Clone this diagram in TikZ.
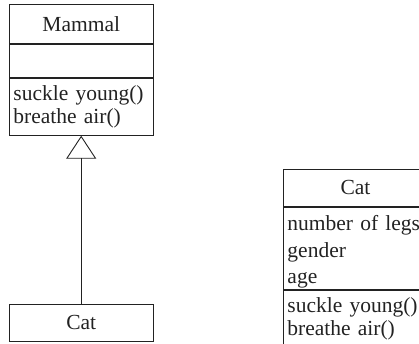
\documentclass[tikz,border=0pt]{standalone}
\usepackage{fontspec}
\setmainfont{Liberation Serif}
\usetikzlibrary{arrows.meta}
\definecolor{ink}{HTML}{222222}
\begin{document}
\begin{tikzpicture}[x=1pt,y=-1pt,
  every node/.style={text=ink, font=\fontsize{21.5}{23.5}\selectfont},
  part/.style={draw=ink, line width=0.9pt, inner sep=0pt, anchor=north west},
  leftpart/.style={part, minimum width=144.5pt},
  rightpart/.style={part, minimum width=145pt},
  lines/.style={align=left, text width=#1, inner xsep=4.5pt},
  inherits/.style={draw=ink, line width=0.9pt,
    -{Triangle[open, width=30pt, length=23pt]}}]
  \clip (0,0) rectangle (419,344);
  \useasboundingbox (0,0) rectangle (419,344);

  % superclass Mammal: name, (empty) attributes, operations
  \node[leftpart, minimum height=39pt] (mname) at (8.5,4) {Mammal};
  \node[leftpart, minimum height=33pt] (mattr) at (mname.south west) {};
  \node[leftpart, minimum height=57pt, lines=135.5pt] (mops) at (mattr.south west)
    {suckle young()\\breathe air()};

  % subclass Cat
  \node[leftpart, minimum height=37pt] (cat) at (8.5,304) {Cat};

  % generalization
  \draw[inherits] (cat.north) -- (mops.south);

  % flattened Cat class
  \node[rightpart, minimum height=37pt] (fname) at (282.5,169) {Cat};
  \node[rightpart, minimum height=82pt] (fattr) at (fname.south west) {};
  \node[lines=136pt, font=\fontsize{21.5}{26.8}\selectfont]
    (fattrtext) at ([yshift=-3.5pt]fattr.center)
    {number of legs\\gender\\age};
  \node[rightpart, minimum height=57pt, lines=136pt] (fops) at (fattr.south west)
    {suckle young()\\breathe air()};
\end{tikzpicture}
\end{document}
